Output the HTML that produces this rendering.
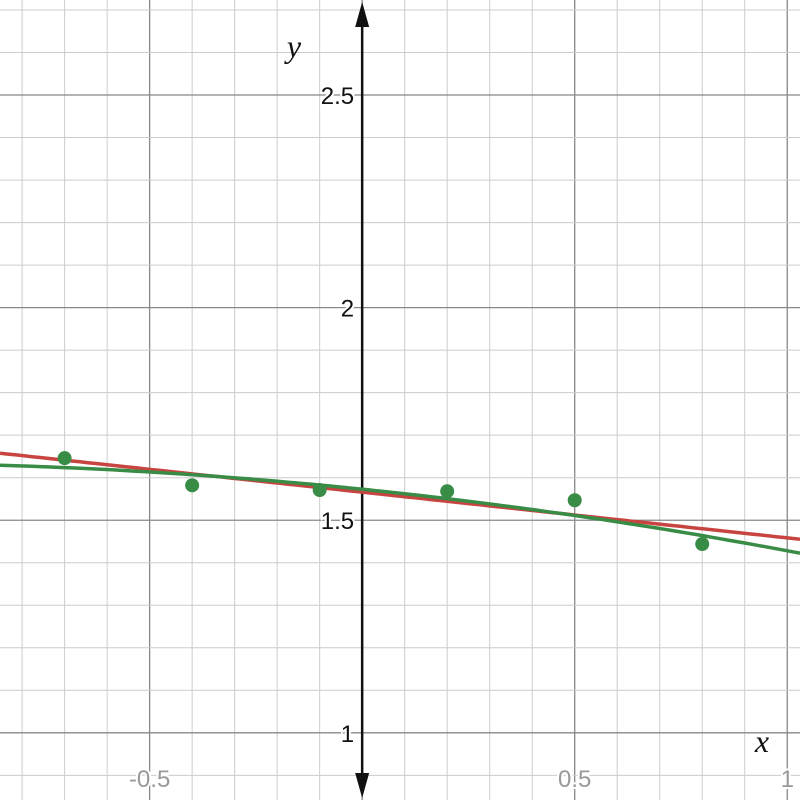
<!DOCTYPE html>
<html><head><meta charset="utf-8"><style>
body{margin:0;background:#fff}
svg{display:block;font-family:"Liberation Sans",sans-serif}
</style></head><body>
<svg id="chart" width="800" height="800"></svg>
<script>
const pointsX=[-0.7,-0.4,-0.1,0.2,0.5,0.8];
const pointsY=[1.646,1.582,1.571,1.568,1.547,1.444];
const linearCoef=[1.566,-0.1075];
const curveCoef=[1.5729,-0.1024,-0.0424];
const xTicks=[-0.5,0.5,1];
const xTickLabels=["-0.5","0.5","1"];
const yTicks=[1,1.5,2,2.5];
const yTickLabels=["1","1.5","2","2.5"];
const X0=-0.852,X1=1.03,Y0=0.842,Y1=2.7235;
const sx=v=>(v-X0)/(X1-X0)*800;
const sy=v=>800-(v-Y0)/(Y1-Y0)*800;
const svg=document.getElementById('chart');
const NS='http://www.w3.org/2000/svg';
function mk(t,a,p){const e=document.createElementNS(NS,t);for(const k in a)e.setAttribute(k,a[k]);(p||svg).appendChild(e);return e;}
const g=mk('g',{});


for(let i=-9;i<=11;i++){const v=i/10,x=sx(v);const major=i%5===0;
 mk('line',{x1:x,x2:x,y1:0,y2:800,stroke:major?'#888':'#ccc','stroke-width':major?1.3:1},g);}
for(let i=8;i<=28;i++){const v=i/10,y=sy(v);const major=i%5===0;
 mk('line',{x1:0,x2:800,y1:y,y2:y,stroke:major?'#888':'#ccc','stroke-width':major?1.3:1},g);}
const ax=sx(0);
const axis=mk('g',{});


mk('line',{x1:ax,x2:ax,y1:18,y2:782,stroke:'#111','stroke-width':2.5},axis);
mk('path',{d:`M${ax} 2 L${ax-7} 27 L${ax+7} 27Z`,fill:'#111'},axis);
mk('path',{d:`M${ax} 798 L${ax-7} 773 L${ax+7} 773Z`,fill:'#111'},axis);
yTicks.forEach((v,i)=>{const t=mk('text',{x:ax-8,y:sy(v)+9,'text-anchor':'end','font-size':24,fill:'#111',stroke:'#fff','stroke-width':4,'paint-order':'stroke'});t.textContent=yTickLabels[i];

});
xTicks.forEach((v,i)=>{const t=mk('text',{x:sx(v),y:787,'text-anchor':'middle','font-size':24,fill:'#999',stroke:'#fff','stroke-width':4,'paint-order':'stroke'});t.textContent=xTickLabels[i];

});
const xl=mk('text',{x:762,y:752,'text-anchor':'middle','font-size':32,'font-style':'italic','font-family':'Liberation Serif,serif',fill:'#111'});xl.textContent='x';


const yl=mk('text',{x:294,y:57,'text-anchor':'middle','font-size':32,'font-style':'italic','font-family':'Liberation Serif,serif',fill:'#111'});yl.textContent='y';


function poly(c,x){return c.reduce((s,a,i)=>s+a*Math.pow(x,i),0);}
function path(c){let d='';for(let i=0;i<=100;i++){const x=X0+(X1-X0)*i/100;d+=(i?'L':'M')+sx(x).toFixed(1)+' '+sy(poly(c,x)).toFixed(1);}return d;}
const rl=mk('path',{d:path(linearCoef),fill:'none',stroke:'#c74440','stroke-width':3.5});


const gl=mk('path',{d:path(curveCoef),fill:'none',stroke:'#388c46','stroke-width':3.5});


pointsX.forEach((x,i)=>{const c=mk('circle',{cx:sx(x),cy:sy(pointsY[i]),r:7,fill:'#388c46'});

});
</script>
</body></html>
